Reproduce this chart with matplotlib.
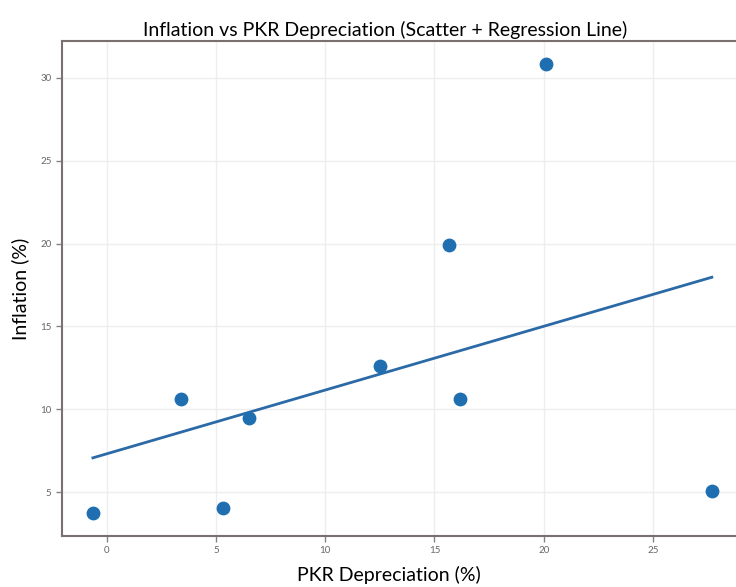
import numpy as np
import matplotlib
matplotlib.use("Agg")
import matplotlib.pyplot as plt

# values
pkr_depr = [-0.64, 3.38, 5.3, 6.5, 12.5, 15.66, 16.16, 20.1, 27.7]
inflation = [3.73, 10.66, 4.04, 9.46, 12.6, 19.94, 10.6, 30.84, 5.06]

x = np.array(pkr_depr)
y = np.array(inflation)
slope, icpt = np.polyfit(x, y, 1)
xl = np.array([x.min(), x.max()])

plt.rcParams['font.family'] = ['Lato', 'DejaVu Sans']

fig = plt.figure(figsize=(7.36, 5.87), dpi=100)
ax = fig.add_axes([0.0842, 0.0869, 0.925, 0.843])

ax.grid(True, color='#eeeeee', linewidth=1.0)
ax.set_axisbelow(True)
ax.scatter(x, y, s=80, color='#1f6fb0', zorder=3)
ax.plot(xl, slope * xl + icpt, color='#2b6aa6', linewidth=2, zorder=2)

for s in ax.spines.values():
    s.set_color('#7b6f6f')
    s.set_linewidth(1.5)

ax.tick_params(axis='both', colors='#8a8080', labelsize=7, length=4, width=1)
for lbl in ax.get_xticklabels() + ax.get_yticklabels():
    lbl.set_color('#666666')

ax.set_title('Inflation vs PKR Depreciation (Scatter + Regression Line)', fontsize=14, pad=4, x=0.475)
ax.set_xlabel('PKR Depreciation (%)', fontsize=14)
ax.xaxis.set_label_coords(0.48, -0.06)
ax.set_ylabel('Inflation (%)', fontsize=14, labelpad=8)

fig.savefig('out.png', dpi=100)
